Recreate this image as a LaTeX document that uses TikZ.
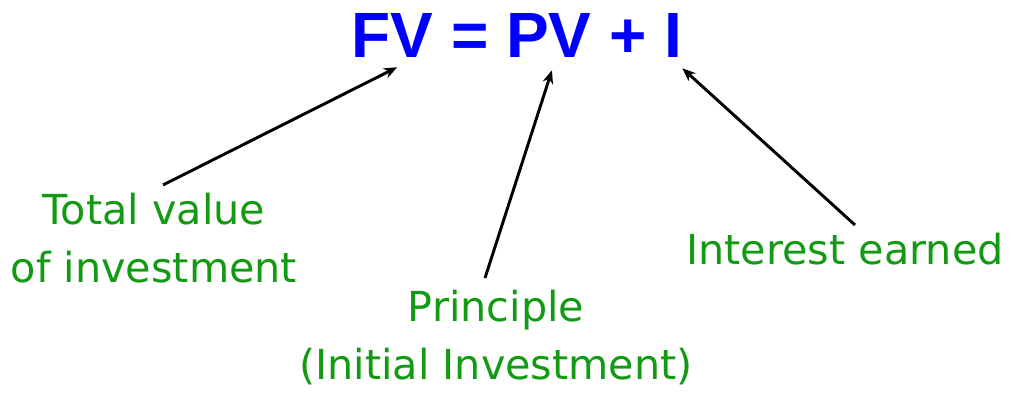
\documentclass[tikz,border=0pt]{standalone}
\usepackage{fontspec}
\usepackage{tikz}
\usetikzlibrary{arrows.meta,positioning}
\newfontfamily\formulafont{Liberation Sans}
\newfontfamily\notefont{DejaVu Sans}
\definecolor{formulablue}{HTML}{0000FF}
\definecolor{notegreen}{HTML}{139A13}

\begin{document}
\begin{tikzpicture}[x=0.75pt,y=0.75pt,
  fm/.style={font=\formulafont\bfseries\fontsize{48}{56}\selectfont,text=formulablue,inner sep=0pt,anchor=base west},
  note/.style={font=\notefont\fontsize{31}{44}\selectfont,text=notegreen,align=center,inner sep=0pt,anchor=base},
  arr/.style={line width=2.2pt,-{Stealth[length=10pt,width=8pt]}}]
\useasboundingbox (0,0) rectangle (1018,395);
% the formula, one node per part
\node[fm] (fv) at (351,337) {FV};
\node[fm] (eq) at (451,337) {=};
\node[fm] (pv) at (506,337) {PV};
\node[fm] (plus) at (609,337) {+};
\node[fm] (i) at (664,337) {I};
% what each part means
\node[note] (tv) at (154,112) {Total value\\of investment};
\node[note] (pr) at (496,15) {Principle\\(Initial Investment)};
\node[note] (ie) at (845,130) {Interest earned};
\draw[arr] ([shift={(9,98)}]tv.base) -- ([shift={(5,-9)}]fv.south);
\draw[arr] ([shift={(-11,102)}]pr.base) -- ([shift={(3,-12)}]pv.south);
\draw[arr] ([shift={(10,40)}]ie.base) -- ([shift={(0,-10)}]i.south east);
\end{tikzpicture}
\end{document}
